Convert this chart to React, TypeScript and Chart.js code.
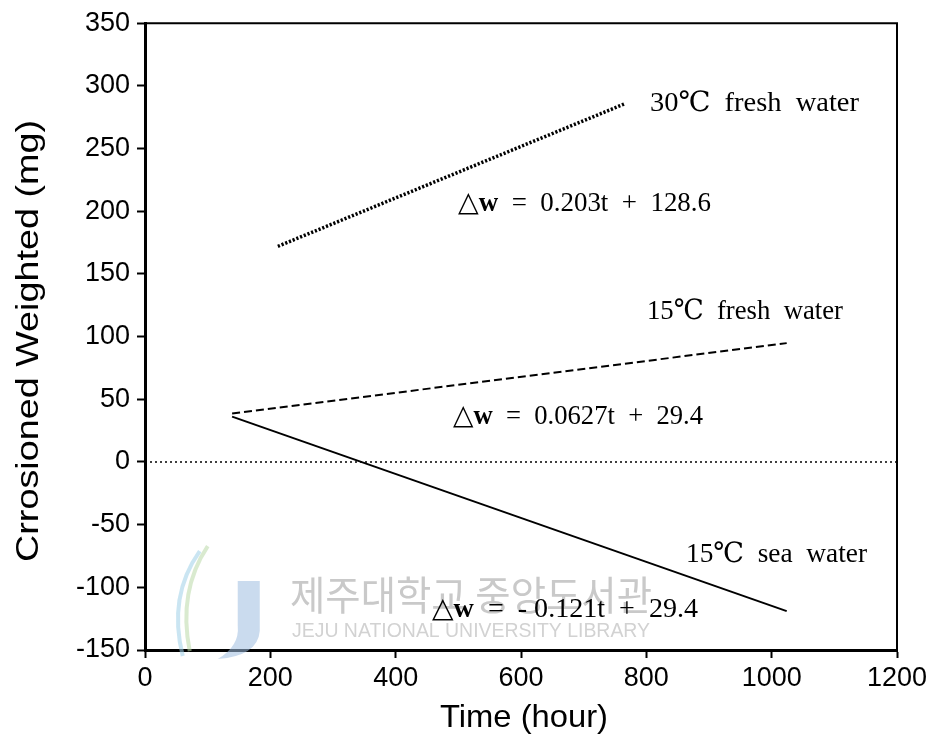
import { useEffect, useRef } from 'react';
import { Chart, registerables } from 'chart.js';

Chart.register(...registerables);

// ---- data ----
const xTickValues = [0, 200, 400, 600, 800, 1000, 1200];
const yTickValues = [-150, -100, -50, 0, 50, 100, 150, 200, 250, 300, 350];

const fresh30Time = [212, 767];
const fresh30Weight = [172, 286];

const fresh15Time = [139, 1024];
const fresh15Weight = [38.6, 94.8];

const sea15Time = [139, 1024];
const sea15Weight = [36.2, -119];

const zeroTime = [0, 1200];
const zeroWeight = [0, 0];

const seriesLabels = ['30℃  fresh  water', '15℃  fresh  water', '15℃  sea  water'];
const equationSlopes = ['0.203t', '0.0627t', '- 0.121t'];
const equationIntercepts = ['128.6', '29.4', '29.4'];

const xTitle = 'Time (hour)';
const yTitle = 'Crrosioned Weighted (mg)';
const watermarkKo = '제주대학교 중앙도서관';
const watermarkEn = 'JEJU NATIONAL UNIVERSITY LIBRARY';

const pts = (xs: number[], ys: number[]) => xs.map((x, i) => ({ x, y: ys[i] }));

const SERIF = "'Liberation Serif', 'DejaVu Serif', 'Noto Sans CJK KR', serif";
const SANS = "'Liberation Sans', Arial, sans-serif";

function fitText(ctx: CanvasRenderingContext2D, segs: { t: string; w?: string }[], x: number, y: number, width: number, size: number, family: string, color: string) {
  ctx.save();
  let total = 0;
  const widths = segs.map(s => {
    ctx.font = `${s.w || 'normal'} ${size}px ${family}`;
    const m = ctx.measureText(s.t).width;
    total += m;
    return m;
  });
  ctx.translate(x, y);
  ctx.scale(width / total, 1);
  ctx.fillStyle = color;
  ctx.textBaseline = 'alphabetic';
  ctx.textAlign = 'left';
  let cx = 0;
  segs.forEach((s, i) => {
    ctx.font = `${s.w || 'normal'} ${size}px ${family}`;
    ctx.fillText(s.t, cx, 0);
    cx += widths[i];
  });
  ctx.restore();
}

const decorPlugin = {
  id: 'decor',
  beforeDatasetsDraw(chart: any) {
    const ctx: CanvasRenderingContext2D = chart.ctx;
    const xs = chart.scales.x, ys = chart.scales.y;
    // watermark logo (light)
    ctx.save();
    const lx = xs.getPixelForValue(148), ly = ys.getPixelForValue(-95);
    ctx.globalAlpha = 0.55;
    ctx.fillStyle = '#9fbde0';
    ctx.beginPath();
    ctx.moveTo(lx, ly);
    ctx.lineTo(lx + 22, ly);
    ctx.lineTo(lx + 22, ly + 50);
    ctx.quadraticCurveTo(lx + 20, ly + 75, lx - 20, ly + 78);
    ctx.quadraticCurveTo(lx + 2, ly + 65, lx, ly + 45);
    ctx.closePath();
    ctx.fill();
    ctx.lineWidth = 4;
    ctx.strokeStyle = '#b9d9a8';
    ctx.beginPath();
    ctx.moveTo(lx - 30, ly - 35);
    ctx.quadraticCurveTo(lx - 60, ly + 10, lx - 48, ly + 70);
    ctx.stroke();
    ctx.strokeStyle = '#9fd0e8';
    ctx.beginPath();
    ctx.moveTo(lx - 38, ly - 30);
    ctx.quadraticCurveTo(lx - 70, ly + 15, lx - 55, ly + 75);
    ctx.stroke();
    ctx.restore();
    fitText(ctx, [{ t: watermarkKo }], xs.getPixelForValue(231.4), ys.getPixelForValue(-118.3), 362, 40, "'Noto Sans CJK KR', sans-serif", '#c9c9c9');
    fitText(ctx, [{ t: watermarkEn }], xs.getPixelForValue(234.6), ys.getPixelForValue(-139.7), 358, 20, "'Liberation Sans', sans-serif", '#d2d2d2');
  },
  afterDraw(chart: any) {
    const ctx: CanvasRenderingContext2D = chart.ctx;
    const a = chart.chartArea;
    const xs = chart.scales.x, ys = chart.scales.y;
    // top & right frame
    ctx.save();
    ctx.strokeStyle = '#000';
    ctx.lineWidth = 2;
    ctx.beginPath();
    ctx.moveTo(a.left, a.top);
    ctx.lineTo(a.right, a.top);
    ctx.lineTo(a.right, a.bottom);
    ctx.stroke();
    ctx.restore();

    // series labels
    const labelAnchors = [[805.8, 280.3, 209], [801, 113.9, 196], [863.3, -79.5, 181]];
    seriesLabels.forEach((t, i) => {
      const [x, y, w] = labelAnchors[i];
      fitText(ctx, [{ t }], xs.getPixelForValue(x), ys.getPixelForValue(y), w, 28, SERIF, '#000');
    });
    // equations
    const eqAnchors = [[499.5, 200.2, 253], [491.5, 29.9, 250], [458, -123.9, 266]];
    equationSlopes.forEach((s, i) => {
      const [x, y, w] = eqAnchors[i];
      fitText(ctx, [{ t: '△' }, { t: 'w', w: 'bold' }, { t: `  =  ${s}  +  ${equationIntercepts[i]}` }],
        xs.getPixelForValue(x), ys.getPixelForValue(y), w, 28, SERIF, '#000');
    });

    // axis titles
    fitText(ctx, [{ t: xTitle }], (a.left + a.right) / 2 + 3 - 84, 727, 168, 32, SANS, '#000');

    ctx.save();
    ctx.font = `normal 32px ${SANS}`;
    const yw = ctx.measureText(yTitle).width;
    ctx.translate(38, 341);
    ctx.rotate(-Math.PI / 2);
    ctx.scale(442 / yw, 1);
    ctx.fillStyle = '#000';
    ctx.textAlign = 'center';
    ctx.textBaseline = 'alphabetic';
    ctx.fillText(yTitle, 0, 0);
    ctx.restore();
  },
};

export default function App() {
  const ref = useRef<HTMLCanvasElement>(null);
  useEffect(() => {
    if (!ref.current) return;
    const line = (data: any, dash: number[], width: number) => ({
      data,
      showLine: true,
      borderColor: '#000',
      backgroundColor: '#000',
      borderWidth: width,
      borderDash: dash,
      pointRadius: 0,
      fill: false,
      tension: 0,
    });
    const chart = new Chart(ref.current, {
      type: 'scatter',
      data: {
        datasets: [
          line(pts(zeroTime, zeroWeight), [2, 3], 1.5),
          line(pts(fresh30Time, fresh30Weight), [2.2, 1.8], 3.5),
          line(pts(fresh15Time, fresh15Weight), [8, 4], 2),
          line(pts(sea15Time, sea15Weight), [], 2),
        ],
      },
      options: {
        animation: false,
        responsive: true,
        maintainAspectRatio: false,
        layout: { padding: { left: 0, top: 19, right: 43, bottom: 0 } },
        plugins: { legend: { display: false }, tooltip: { enabled: false } },
        scales: {
          x: {
            type: 'linear',
            min: 0,
            max: 1200,
            afterFit: (s: any) => { s.height = 88; },
            afterBuildTicks: (s: any) => { s.ticks = xTickValues.map(v => ({ value: v })); },
            ticks: { color: '#000', font: { size: 27, family: SANS }, padding: 4, maxRotation: 0, callback: (v: any) => String(v) },
            grid: { drawOnChartArea: false, drawTicks: true, tickLength: 8, tickWidth: 2, tickColor: '#000' },
            border: { display: true, color: '#000', width: 3 },
          },
          y: {
            type: 'linear',
            min: -150,
            max: 350,
            afterFit: (s: any) => { s.width = 145; },
            afterBuildTicks: (s: any) => { s.ticks = yTickValues.map(v => ({ value: v })); },
            ticks: { color: '#000', font: { size: 27, family: SANS }, padding: 7, callback: (v: any) => String(v) },
            grid: { drawOnChartArea: false, drawTicks: true, tickLength: 8, tickWidth: 2, tickColor: '#000' },
            border: { display: true, color: '#000', width: 3 },
          },
        },
      },
      plugins: [decorPlugin],
    });
    return () => chart.destroy();
  }, []);
  return (
    <div style={{ position: 'absolute', left: 0, top: 0, width: 940, height: 738, background: '#fff' }}>
      <canvas ref={ref} />
    </div>
  );
}
